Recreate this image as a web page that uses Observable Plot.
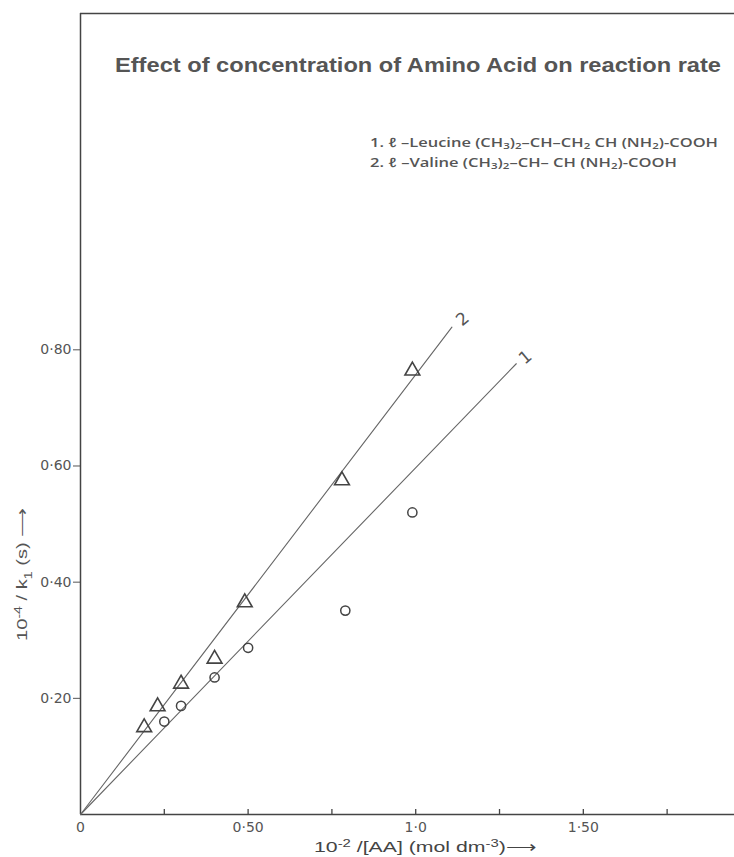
<!DOCTYPE html>
<html><head><meta charset="utf-8">
<script src="https://cdn.jsdelivr.net/npm/d3@7"></script>
<script src="https://cdn.jsdelivr.net/npm/@observablehq/plot@0.6"></script>
<style>body{margin:0;background:#fff} #chart svg{display:block}</style>
</head><body><div id="chart"></div>
<script>
// Series 1: l-Leucine (circles)
const leucineX = [0.25, 0.30, 0.40, 0.50, 0.79, 0.99];
const leucineY = [0.160, 0.187, 0.236, 0.287, 0.351, 0.520];
// Series 2: l-Valine (triangles)
const valineX = [0.19, 0.23, 0.30, 0.40, 0.49, 0.78, 0.99];
const valineY = [0.150, 0.186, 0.225, 0.268, 0.365, 0.575, 0.764];
// hand-drawn fit lines (start, end)
const fitLeucineX = [0, 1.30];
const fitLeucineY = [0, 0.776];
const fitValineX = [0, 1.108];
const fitValineY = [0, 0.839];
const lineLabelText = ["1", "2"];
const lineLabelX = [1.327, 1.140];
const lineLabelY = [0.787, 0.853];
// axes
const xTickValues = [0, 0.5, 1.0, 1.5];
const xTickLabels = ["0", "0·50", "1·0", "1·50"];
const xMinorTicks = [0.25, 0.5, 0.75, 1.0, 1.25, 1.5, 1.75];
const yTickValues = [0.2, 0.4, 0.6, 0.8];
const yTickLabels = ["0·20", "0·40", "0·60", "0·80"];
const xMax = 1.951, yMax = 1.379;

const leucine = leucineX.map((x, i) => ({x, y: leucineY[i]}));
const valine = valineX.map((x, i) => ({x, y: valineY[i]}));
const fitLeucine = fitLeucineX.map((x, i) => ({x, y: fitLeucineY[i]}));
const fitValine = fitValineX.map((x, i) => ({x, y: fitValineY[i]}));
const lineLabels = lineLabelText.map((t, i) => ({t, x: lineLabelX[i], y: lineLabelY[i]}));

const W = 734, H = 857, mT = 13, mB = 43;
const innerH = H - mT - mB;

const svg = Plot.plot({
  width: W, height: H,
  marginLeft: 80, marginTop: mT, marginRight: 0, marginBottom: mB,
  x: {domain: [0, xMax]},
  y: {domain: [0, yMax]},
  style: {fontFamily: "'DejaVu Sans', sans-serif", background: "#fff", color: "#555"},
  marks: [
    Plot.axisX(xTickValues, {tickFormat: d => xTickLabels[xTickValues.indexOf(d)], tickSize: 0, tickPadding: 8, fontSize: 14, fill: "#555", label: null}),
    Plot.axisY(yTickValues, {tickFormat: d => yTickLabels[yTickValues.indexOf(d)], tickSize: 7, tickPadding: 2, fontSize: 14, fill: "#555", stroke: "#555", label: null}),
    Plot.ruleX(xMinorTicks, {stroke: "#444", strokeWidth: 1.3, insetTop: innerH - 5}),
    Plot.ruleX([0], {stroke: "#444", strokeWidth: 1.5}),
    Plot.ruleY([0], {stroke: "#444", strokeWidth: 1.5}),
    Plot.ruleY([yMax], {stroke: "#444", strokeWidth: 1.5}),
    Plot.line(fitLeucine, {x: "x", y: "y", stroke: "#666", strokeWidth: 1.1}),
    Plot.line(fitValine, {x: "x", y: "y", stroke: "#666", strokeWidth: 1.1}),
    Plot.dot(leucine, {x: "x", y: "y", r: 4.6, stroke: "#444", strokeWidth: 1.5, fill: "none"}),
    Plot.dot(valine, {x: "x", y: "y", r: 5.5, symbol: "triangle", stroke: "#444", strokeWidth: 1.6, fill: "none"}),
    Plot.text(lineLabels, {x: "x", y: "y", text: "t", rotate: -40, fontSize: 17, fill: "#555"})
  ]
});
document.getElementById("chart").appendChild(svg);

const s = d3.select(svg);
// Title
s.append("text").attr("x", 115).attr("y", 72).attr("text-anchor", "start")
  .attr("font-family", "'Liberation Sans', Arial, sans-serif")
  .attr("font-weight", "bold").attr("font-size", 21).attr("fill", "#555")
  .attr("textLength", 606).attr("lengthAdjust", "spacingAndGlyphs")
  .text("Effect of concentration of Amino Acid on reaction rate");

function rich(parent, parts, shift) {
  parts.forEach(p => {
    if (typeof p === "string") parent.append("tspan").text(p);
    else parent.append("tspan").attr("baseline-shift", p.sub ? -shift : shift)
      .attr("font-size", "70%").text(p.sub || p.sup);
  });
}
// Legend
const legend = s.append("g").attr("text-anchor", "start")
  .attr("font-family", "'Open Sans', sans-serif").attr("font-weight", 600)
  .attr("font-size", 13).attr("fill", "#555");
rich(legend.append("text").attr("x", 370).attr("y", 147).attr("textLength", 348).attr("lengthAdjust", "spacingAndGlyphs"),
  ["1. ℓ –Leucine (CH", {sub: "3"}, ")", {sub: "2"}, "–CH–CH", {sub: "2"}, " CH (NH", {sub: "2"}, ")-COOH"], 2);
rich(legend.append("text").attr("x", 370).attr("y", 167).attr("textLength", 307).attr("lengthAdjust", "spacingAndGlyphs"),
  ["2. ℓ –Valine (CH", {sub: "3"}, ")", {sub: "2"}, "–CH– CH (NH", {sub: "2"}, ")-COOH"], 2);

// Axis titles
rich(s.append("text").attr("x", 314).attr("y", 852).attr("text-anchor", "start")
  .attr("font-family", "'Liberation Sans', Arial, sans-serif").attr("font-size", 15).attr("fill", "#444")
  .attr("textLength", 223).attr("lengthAdjust", "spacingAndGlyphs"),
  ["10", {sup: "-2"}, " /[AA] (mol dm", {sup: "-3"}, ")⟶"], 5);
rich(s.append("text").attr("transform", "translate(27,641) rotate(-90)").attr("text-anchor", "start")
  .attr("font-family", "'Liberation Sans', Arial, sans-serif").attr("font-size", 15).attr("fill", "#555")
  .attr("textLength", 134).attr("lengthAdjust", "spacingAndGlyphs"),
  ["10", {sup: "-4"}, " / k", {sub: "1"}, " (s) ⟶"], 5);
</script>
</body></html>
